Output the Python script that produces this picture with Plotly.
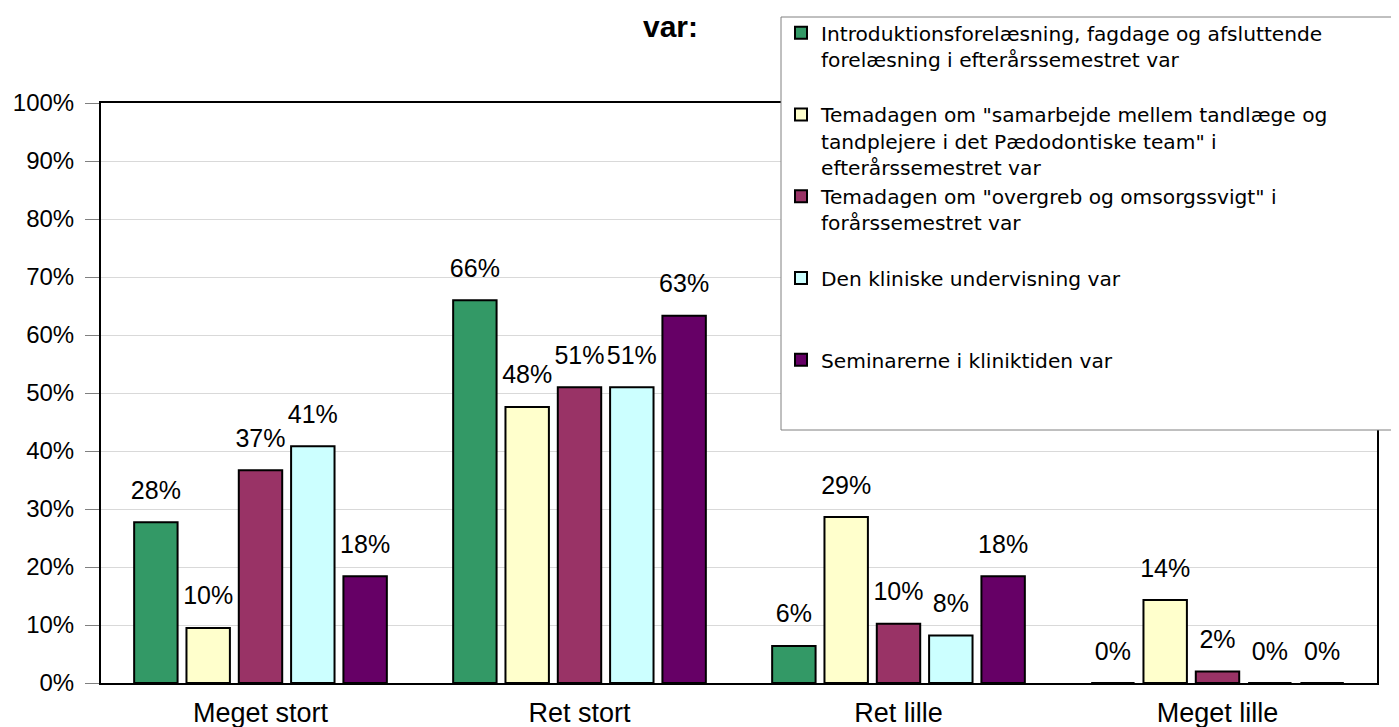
import plotly.graph_objects as go

categories = ["Meget stort", "Ret stort", "Ret lille", "Meget lille"]

series_names = [
    "Introduktionsforelæsning, fagdage og afsluttende<br>forelæsning i efterårssemestret var",
    "Temadagen om \"samarbejde mellem tandlæge og<br>tandplejere i det Pædodontiske team\" i<br>efterårssemestret var",
    "Temadagen om \"overgreb og omsorgssvigt\" i<br>forårssemestret var",
    "Den kliniske undervisning var",
    "Seminarerne i kliniktiden var",
]
# padding lines so the legend entries are evenly spaced like the reference
legend_pad = [1, 0, 1, 2, 2]

intro = [27.7, 66.0, 6.4, 0.0]
temadag_samarbejde = [9.5, 47.6, 28.6, 14.3]
temadag_overgreb = [36.7, 51.0, 10.2, 2.0]
klinisk = [40.8, 51.0, 8.2, 0.0]
seminarer = [18.4, 63.3, 18.4, 0.0]
series_values = [intro, temadag_samarbejde, temadag_overgreb, klinisk, seminarer]

colors = ["#339966", "#FFFFCC", "#993366", "#CCFFFF", "#660066"]

y_ticks = list(range(0, 101, 10))

FONT = "Liberation Sans, Arial, sans-serif"
LEGEND_FONT = "DejaVu Sans, sans-serif"
TITLE_FONT = "Liberation Sans Narrow, Arial Narrow, Liberation Sans, sans-serif"

fig = go.Figure()
for name, vals, col, pad in zip(series_names, series_values, colors, legend_pad):
    fig.add_trace(go.Bar(
        x=categories, y=vals, name=name + "<br>\u00a0" * pad,
        marker=dict(color=col, line=dict(color="black", width=2)),
    ))
for vals in series_values:
    fig.add_trace(go.Scatter(
        x=categories, y=vals, mode="text+markers",
        text=[f"{round(v)}%" for v in vals],
        textposition="top center",
        textfont=dict(family=FONT, size=25, color="black"),
        marker=dict(size=26, opacity=0),
        showlegend=False, cliponaxis=False, hoverinfo="skip",
    ))

# the page body has an 8px margin, so the figure is drawn 8px right/down
OFF = 8
W, H = 1399 - OFF, 727 - OFF
L, T = 101 - OFF, 103 - OFF
R = W - (1377 - OFF)
B = H - (683 - OFF)
pw, ph = W - L - R, H - T - B

def px(x):
    return (x - OFF - L) / pw

def py(y):
    return (H - B - (y - OFF)) / ph

fig.update_layout(
    width=W, height=H,
    margin=dict(l=L, r=R, t=T, b=B, autoexpand=False),
    paper_bgcolor="white", plot_bgcolor="white",
    barmode="group", bargap=0.18, bargroupgap=0.17,
    scattermode="group", scattergap=0.18,
    font=dict(family=FONT, size=24, color="black"),
    showlegend=True,
    legend=dict(
        x=px(781), y=py(13), xanchor="left", yanchor="top",
        bgcolor="rgba(0,0,0,0)", borderwidth=0,
        font=dict(family=LEGEND_FONT, size=20.2, color="black"),
        valign="top", tracegroupgap=0, itemwidth=30,
        maxheight=600,
    ),
    shapes=[dict(
        type="rect", xref="paper", yref="paper",
        x0=px(781), x1=px(1393), y0=py(430), y1=py(17),
        line=dict(color="#808080", width=1), fillcolor="white", layer="above",
    )],
    annotations=[dict(
        text="<b>var:</b>", xref="paper", yref="paper",
        x=px(670), y=py(27), xanchor="center", yanchor="middle",
        showarrow=False, font=dict(family=TITLE_FONT, size=30, color="black"),
    )],
)
fig.update_xaxes(
    showline=True, linecolor="black", linewidth=2, mirror=True,
    ticks="", showgrid=False, ticklabelstandoff=5,
    tickfont=dict(family=FONT, size=27, color="black"),
)
fig.update_yaxes(
    range=[0, 100], tickvals=y_ticks, ticktext=[f"{t}%" for t in y_ticks],
    showline=True, linecolor="black", linewidth=2, mirror=True,
    ticks="outside", ticklen=14, tickcolor="#808080", tickwidth=1,
    ticklabelstandoff=6,
    showgrid=True, gridcolor="#D9D9D9", gridwidth=1, zeroline=False,
    tickfont=dict(family=FONT, size=24, color="black"),
)

fig.write_html("out.html")
